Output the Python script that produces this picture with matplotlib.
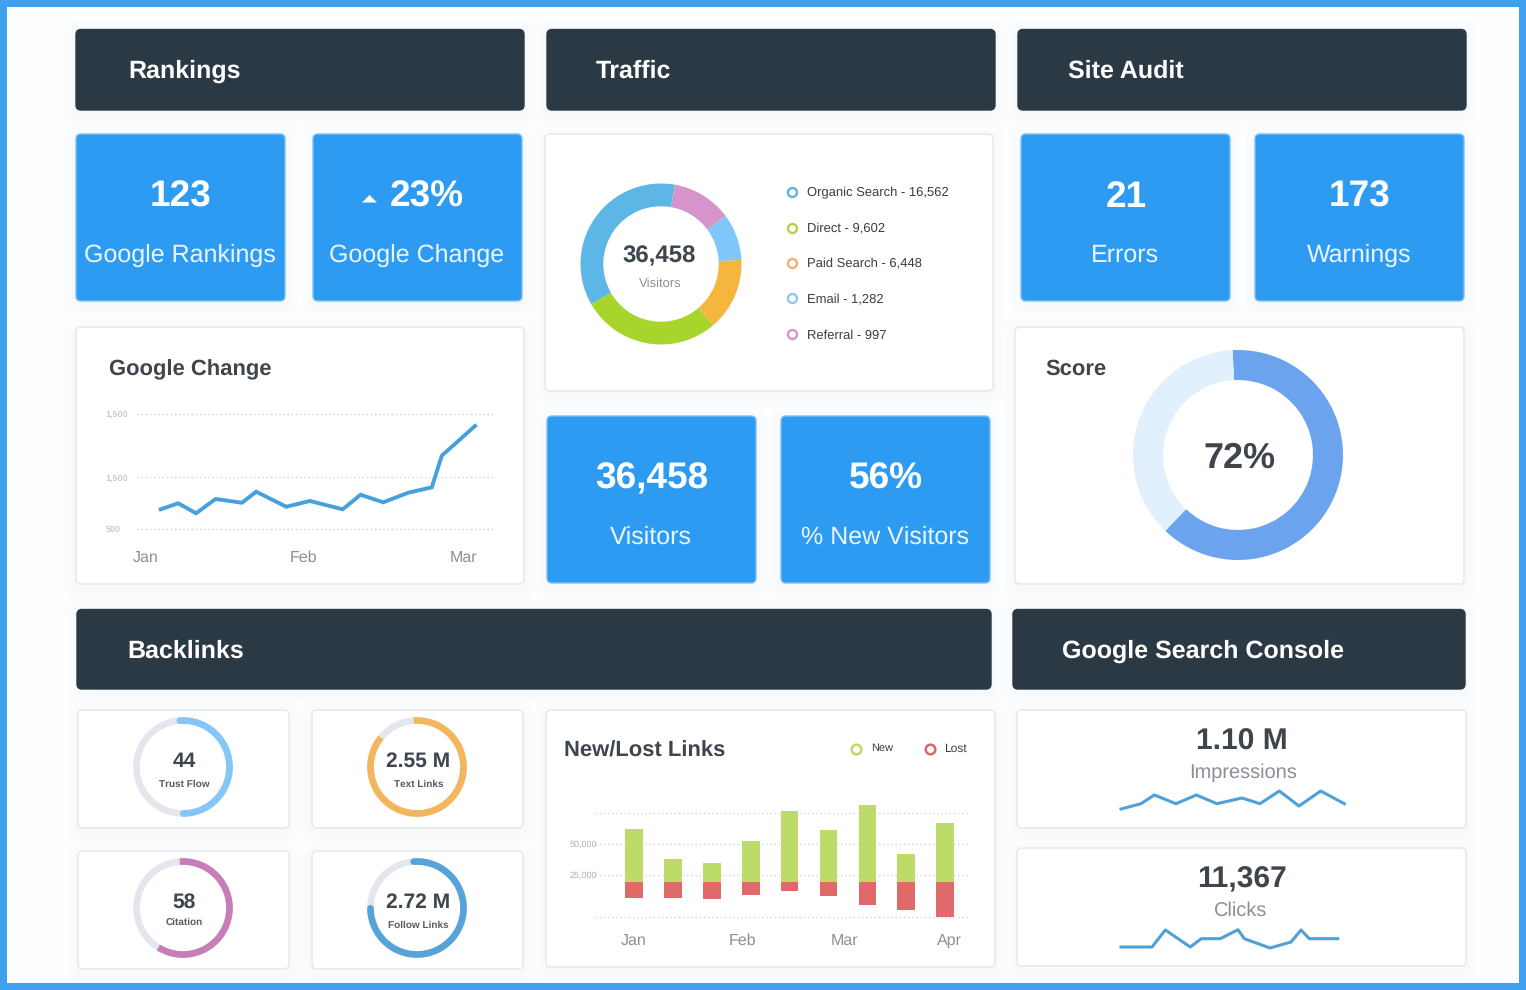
import numpy as np
import matplotlib
matplotlib.use("Agg")
import matplotlib.pyplot as plt
from matplotlib.patches import FancyBboxPatch, Rectangle

W, H = 1526, 990
plt.rcParams['font.family'] = ['Liberation Sans', 'DejaVu Sans']
plt.rcParams['text.hinting'] = 'no_hinting'
plt.rcParams['text.hinting_factor'] = 1

# Google Change line (x in days from the Jan label)
change_days = [2.8, 6.1, 9.5, 13.2, 18.2, 20.9, 26.6, 31.1, 37.3, 40.7, 45, 49.7, 54.2, 56.1, 62.4]
change_vals = [689, 747, 651, 788, 752, 858, 714, 769, 689, 829, 756, 848, 900, 1204, 1489]
change_ticks = [500, 1000, 1606]
change_ticklabels = ['500', '1,500', '1,500']
change_months = ['Jan', 'Feb', 'Mar']
change_month_days = [0, 29.8, 60.3]

# Traffic donut, shares
traffic_names = ['Organic Search - 16,562', 'Direct - 9,602', 'Paid Search - 6,448', 'Email - 1,282', 'Referral - 997']
traffic_shares = [36.1, 27.9, 14.6, 9.4, 12.0]
traffic_colors = ['#5db7e6', '#a8d52c', '#f4b63f', '#7fc6fb', '#d595cb']

score_share = 63

# New/Lost links
link_new = [42700, 18800, 15000, 33300, 57500, 41600, 62000, 22800, 47800]
link_lost = [12900, 12600, 13700, 10200, 7000, 11300, 18300, 22600, 28500]
link_base = 19100
link_ticks = [-9100, 25000, 50000, 75000]
link_ticklabels = ['', '25,000', '50,000', '']
link_months = ['Jan', 'Feb', 'Mar', 'Apr']
link_month_pos = [0, 2.78, 5.42, 8.1]

# Sparklines
impr_x = [0, 20, 33.3, 55, 75.3, 96, 121, 139, 158.3, 178, 199.7, 223.3]
impr_y = [0, 5.3, 14, 5.3, 14, 5.3, 11, 5.3, 18, 3, 18, 5.3]
click_x = [0, 31, 44.3, 69.3, 80.3, 99.3, 117, 123.3, 149, 170, 180, 188.3, 216.7]
click_y = [1, 1, 18, 1, 9.3, 9.3, 18.3, 9.3, 0, 6, 18, 9.3, 9.3]

# Gauges: value, label, share of ring, colour
gauge_vals = ['44', '2.55 M', '58', '2.72 M']
gauge_labels = ['Trust Flow', 'Text Links', 'Citation', 'Follow Links']
gauge_shares = [51, 87, 60, 76]
gauge_colors = ['#84c6f8', '#f4b65c', '#c87db8', '#55a3d9']

DARK = '#2b3944'
BLUE = '#2e9bf3'
INK = '#3e454d'
GREY = '#8b9098'

fig = plt.figure(figsize=(W / 100, H / 100), dpi=100, facecolor='#3fa0ef')
bg = fig.add_axes([0, 0, 1, 1])
bg.set_xlim(0, W)
bg.set_ylim(H, 0)
bg.axis('off')
bg.add_patch(Rectangle((7, 7), 1512, 976, fc='#fdfeff', ec='none'))


def panel(x0, y0, x1, y1, fc='white', ec='#e4e6ea'):
    # soft shadow first
    for grow, a in [(12, 0.005), (8, 0.007), (4, 0.01)]:
        bg.add_patch(FancyBboxPatch((x0 - grow, y0 - grow + 4), x1 - x0 + 2 * grow, y1 - y0 + 2 * grow,
                                    boxstyle='round,pad=0,rounding_size=10', fc='#4a6a9a', ec='none', alpha=a))
    bg.add_patch(FancyBboxPatch((x0, y0), x1 - x0, y1 - y0, boxstyle='round,pad=0,rounding_size=5',
                                fc=fc, ec=ec, lw=1.0))


def inset(x0, y0, x1, y1):
    ax = fig.add_axes([x0 / W, 1 - y1 / H, (x1 - x0) / W, (y1 - y0) / H])
    ax.patch.set_alpha(0)
    return ax


def label(x, y, s, size, color=INK, weight='normal', ha='center'):
    bg.text(x, y + 1.5, s, fontsize=size, color=color, fontweight=weight, ha=ha, va='center')


def dotted_grid(ax):
    ax.tick_params(length=0)
    ax.grid(axis='y', color='#d0d2d6', lw=1, linestyle=(0, (1, 2)))
    ax.set_axisbelow(True)
    for gl in ax.get_ygridlines():
        gl.set_clip_on(False)
    for s in ax.spines.values():
        s.set_visible(False)


# headers
headers = [(76, 29, 524, 110, 'Rankings', 128), (547, 29, 995, 110, 'Traffic', 596), (1018, 29, 1466, 110, 'Site Audit', 1068),
           (77, 609, 991, 689, 'Backlinks', 127), (1013, 609, 1465, 689, 'Google Search Console', 1062)]
for x0, y0, x1, y1, name, tx in headers:
    panel(x0, y0 + 0.5, x1, y1, fc=DARK, ec=DARK)
    label(tx, (y0 + y1) / 2 + 0.5, name, 17.7, 'white', 'bold', ha='left')

# blue tiles
tiles = [(76, 134, '123', 'Google Rankings'), (313, 134, '23%', 'Google Change'), (1021, 134, '21', 'Errors'),
         (1255, 134, '173', 'Warnings'), (547, 416, '36,458', 'Visitors'), (781, 416, '56%', '% New Visitors')]
for x0, y0, big, small in tiles:
    panel(x0, y0, x0 + 209, y0 + 167, fc=BLUE, ec='#7dbff6')
    bx = x0 + 105 + (9 if big == '23%' else 0)
    label(bx, y0 + 61.5, big, 26.5, 'white', 'bold')
    label(x0 + 104, y0 + 120, small, 17.7, '#eaf5fe')
bg.scatter([369], [202], marker=[(-1, 0), (1, 0), (0, 1)], s=117, color='white', linewidths=0, zorder=3)

# white panels
for box in [(76, 327, 524, 584), (545, 134, 993, 391), (1015, 327, 1464, 584),
            (78, 710, 289, 828), (312, 710, 523, 828), (78, 851, 289, 969), (312, 851, 523, 969),
            (546, 710, 995, 967), (1017, 710, 1466, 828), (1017, 848, 1466, 966)]:
    panel(*box)

# Google Change chart
label(109, 368, 'Google Change', 16, INK, 'bold', ha='left')
ax = inset(137, 400, 494, 529)
ax.plot(change_days, change_vals, color='#46a0de', lw=2.8, solid_joinstyle='miter')
ax.set_xlim(-1.7, 66)
ax.set_ylim(500, 500 + 129 * 9.6)
ax.set_yticks(change_ticks, change_ticklabels, fontsize=6.6, color='#c8cbcf', fontweight='bold', ha='left')
ax.set_xticks(change_month_days, change_months, fontsize=11.8, color=GREY)
dotted_grid(ax)
ax.tick_params(axis='y', pad=22.6)
ax.tick_params(axis='x', pad=15)

# Traffic donut
ax = inset(575, 178, 747, 350)
ax.pie(traffic_shares, colors=traffic_colors, startangle=80, counterclock=True, radius=1,
       wedgeprops=dict(width=0.283, linewidth=0))
ax.set_xlim(-86 / 80.5, 86 / 80.5)
ax.set_ylim(-86 / 80.5, 86 / 80.5)
label(659, 255, '36,458', 17.6, INK, 'bold')
label(660.5, 282, 'Visitors', 9.3, GREY)
legend_y = [191.5, 227.5, 262.5, 298, 334]
legend_colors = ['#5db3d9', '#b4d24f', '#f0b26a', '#8ccbee', '#d595cb']
for yy, name, c in zip(legend_y, traffic_names, legend_colors):
    bg.scatter([791.5], [yy], s=42, facecolors='white', edgecolors=c, linewidths=1.7, zorder=3)
    label(807, yy, name, 9.7, '#3a3d42', ha='left')

# Score donut
label(1045, 368, 'Score', 16, INK, 'bold', ha='left')
ax = inset(1128, 345, 1348, 565)
ax.pie([score_share, 100 - score_share], colors=['#6ca3ee', '#e2effc'], startangle=93, counterclock=False, radius=1,
       wedgeprops=dict(width=0.286, linewidth=0))
ax.set_xlim(-110 / 105, 110 / 105)
ax.set_ylim(-110 / 105, 110 / 105)
label(1239, 456.5, '72%', 25.8, INK, 'bold')

# gauges
gauge_boxes = [(183, 767), (417, 767), (183, 908), (417, 908)]
gauge_text_y = [(760, 783), (760, 783), (901, 921), (901, 924)]
gauge_caps = ['round', 'butt', 'butt', 'round']
for (cx, cy), (ty0, ty1), val, name, share, c, cap in zip(gauge_boxes, gauge_text_y, gauge_vals, gauge_labels,
                                                         gauge_shares, gauge_colors, gauge_caps):
    ax = inset(cx - 55, cy - 55, cx + 55, cy + 55)
    ax.set_aspect('equal')
    ax.axis('off')
    ring = np.linspace(0, 2 * np.pi, 200)
    ax.plot(np.cos(ring), np.sin(ring), color='#e3e6ec', lw=4.8)
    arc = np.radians(94 - np.linspace(0, share * 3.6, 150))
    ax.plot(np.cos(arc), np.sin(arc), color=c, lw=4.8, solid_capstyle=cap)
    ax.set_xlim(-55 / 46.5, 55 / 46.5)
    ax.set_ylim(-55 / 46.5, 55 / 46.5)
    label(cx + 1, ty0, val, 15.3, INK, 'bold')
    label(cx + 1.5, ty1, name, 7.3, '#555b63', 'bold')

# New/Lost links
label(564, 749, 'New/Lost Links', 16, INK, 'bold', ha='left')
bg.scatter([856], [748.5], s=48, facecolors='white', edgecolors='#bcd96b', linewidths=1.8, zorder=3)
label(871, 747, 'New', 8.2, '#3a3d42', ha='left')
bg.scatter([930], [748.5], s=48, facecolors='white', edgecolors='#d9686a', linewidths=1.8, zorder=3)
label(944, 747, 'Lost', 8.6, '#3a3d42', ha='left')
ax = inset(594.7, 800, 969.3, 917)
xs = np.arange(len(link_new))
ax.bar(xs, link_new, bottom=link_base, width=0.455, color='#bcdb69')
ax.bar(xs, [-v for v in link_lost], bottom=link_base, width=0.455, color='#e06a6b')
ax.set_xlim(-1.01, 8.62)
ax.set_ylim(-9100, -9100 + 117 * 806)
ax.set_yticks(link_ticks, link_ticklabels, fontsize=6.8, color='#a9adb2')
ax.set_xticks(link_month_pos, link_months, fontsize=11.8, color=GREY)
dotted_grid(ax)
ax.tick_params(axis='y', pad=-2)
ax.tick_params(axis='x', pad=11.5)

# Search console cards
label(1242, 740, '1.10 M', 21.5, INK, 'bold')
label(1243, 771, 'Impressions', 14.5, GREY)
ax = inset(1121, 785, 1345, 809)
ax.plot(impr_x, impr_y, color='#4fa0d8', lw=2.2, clip_on=False)
ax.set_xlim(0, 224)
ax.set_ylim(0, 24)
ax.axis('off')
label(1242, 878, '11,367', 21.5, INK, 'bold')
label(1241, 909, 'Clicks', 14.5, GREY)
ax = inset(1121, 924, 1338, 948)
ax.plot(click_x, click_y, color='#4fa0d8', lw=2.2, clip_on=False)
ax.set_xlim(0, 217)
ax.set_ylim(0, 24)
ax.axis('off')

fig.savefig('out.png', dpi=100, facecolor=fig.get_facecolor())
